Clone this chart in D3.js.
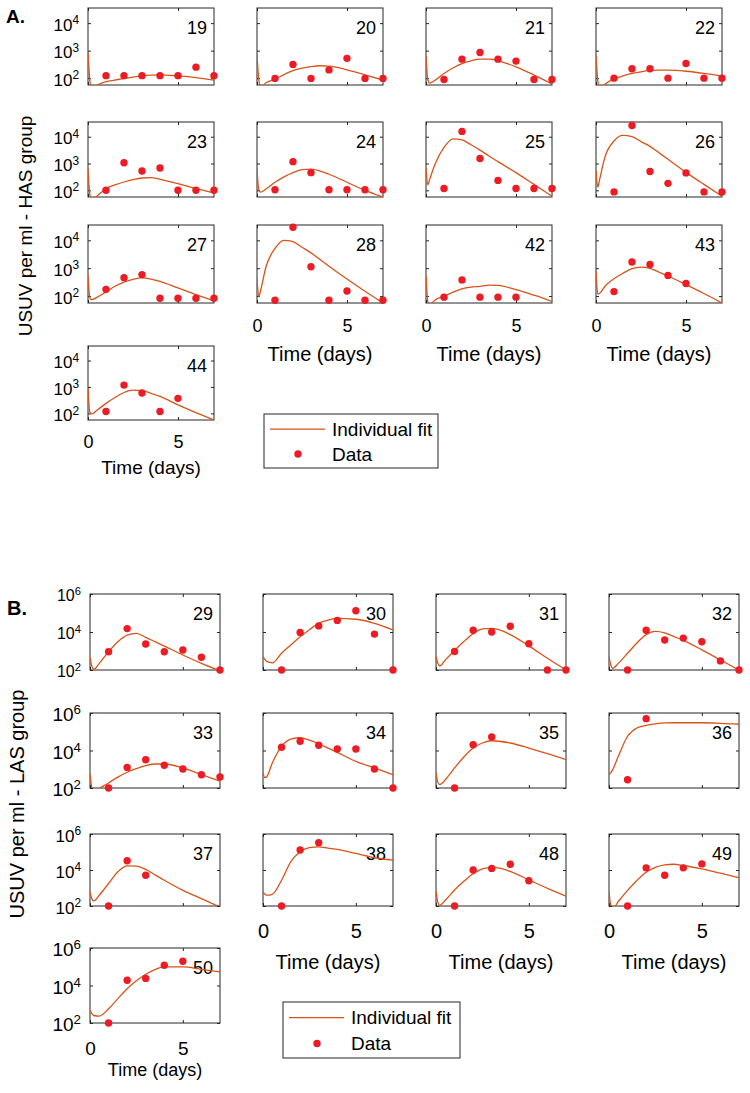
<!DOCTYPE html>
<html><head><meta charset="utf-8">
<script src="https://cdn.jsdelivr.net/npm/d3@7"></script>
<style>
body{margin:0;background:#fff;}
svg text{font-family:Arial,"Liberation Sans",Helvetica,sans-serif;fill:#000;}
</style>
</head><body>
<svg id="c" width="750" height="1093"></svg>
<script>
// ---------- data (values are log10 of USUV per ml) ----------
const fitTimes = [0,0.1,0.2,0.5,1,1.5,2,2.5,3,3.5,4,5,6,7];
const dataDays = [1,2,3,4,5,6,7];
const xTicks = [0,5];
const yTicksA = [2,3,4];
const yTicksB = [2,4,6];
const legendLabels = ["Individual fit","Data"];

const idsA = [19,20,21,22,23,24,25,26,27,28,42,43,44];
const fitA = [
  [2.91,1.95,1.60,1.74,1.87,1.93,1.99,2.04,2.08,2.11,2.12,2.08,2.02,1.93],
  [2.85,1.95,1.68,1.83,1.97,2.13,2.27,2.36,2.42,2.45,2.44,2.30,2.12,1.93],
  [2.80,1.95,1.82,1.92,2.17,2.37,2.53,2.63,2.69,2.69,2.63,2.41,2.11,1.79],
  [2.83,1.90,1.60,1.78,1.97,2.08,2.17,2.23,2.28,2.29,2.29,2.25,2.17,2.07],
  [2.81,1.85,1.60,1.78,2.06,2.20,2.31,2.40,2.46,2.47,2.41,2.25,2.06,1.90],
  [2.81,2.00,1.93,2.05,2.30,2.50,2.66,2.77,2.79,2.72,2.60,2.30,2.00,1.75],
  [2.85,2.20,2.40,2.97,3.60,3.92,3.88,3.70,3.50,3.28,3.07,2.66,2.22,1.78],
  [2.75,2.12,2.40,3.25,3.84,4.05,4.00,3.82,3.64,3.40,3.16,2.67,2.22,1.78],
  [2.75,1.95,1.87,1.95,2.15,2.35,2.50,2.60,2.65,2.61,2.53,2.29,2.05,1.83],
  [2.63,1.98,2.20,3.05,3.71,4.00,3.95,3.75,3.55,3.31,3.07,2.61,2.17,1.75],
  [2.74,1.80,1.68,1.86,1.99,2.14,2.26,2.32,2.35,2.39,2.38,2.23,2.03,1.81],
  [2.90,2.07,2.10,2.35,2.62,2.82,2.98,3.04,2.99,2.86,2.72,2.41,2.09,1.75],
  [2.95,2.05,1.98,2.12,2.38,2.60,2.79,2.88,2.86,2.76,2.64,2.32,2.03,1.75]
];
const dotsA = [
  [2.09,2.09,2.09,2.09,2.09,2.40,2.09],
  [1.99,2.50,1.99,2.30,2.72,1.99,1.99],
  [1.95,2.69,2.93,2.69,2.62,1.95,1.95],
  [2.00,2.34,2.34,2.00,2.53,2.00,2.00],
  [2.00,3.03,2.72,2.83,2.00,2.00,2.00],
  [2.02,3.07,2.66,2.02,2.02,2.02,2.02],
  [2.07,4.20,3.19,2.37,2.07,2.07,2.07],
  [1.94,4.42,2.70,2.26,2.65,1.94,1.94],
  [2.24,2.66,2.77,1.92,1.92,1.92,1.92],
  [1.85,4.47,3.05,1.85,2.18,1.85,1.85],
  [1.96,2.58,1.96,1.96,1.96,null,null],
  [2.16,3.22,3.13,2.74,2.45,null,null],
  [2.07,3.07,2.77,2.07,2.57,null,null]
];

const idsB = [29,30,31,32,33,34,35,36,37,38,48,49,50];
const fitB = [
  [2.67,2.20,2.04,2.35,2.96,3.49,3.84,3.93,3.72,3.49,3.26,2.79,2.35,1.96],
  [2.70,2.55,2.45,2.38,2.88,3.32,3.75,4.12,4.46,4.62,4.72,4.67,4.46,4.11],
  [2.71,2.35,2.21,2.53,3.03,3.50,3.91,4.16,4.19,4.09,3.86,3.27,2.62,2.00],
  [2.71,2.25,2.09,2.35,2.88,3.42,3.86,4.03,3.95,3.76,3.56,3.06,2.53,2.00],
  [2.76,2.00,1.80,1.98,2.27,2.58,2.84,3.03,3.19,3.28,3.28,3.07,2.71,2.36],
  [2.80,2.55,2.60,3.33,4.22,4.61,4.68,4.55,4.36,4.13,3.90,3.42,3.07,2.71],
  [2.80,2.30,2.18,2.44,3.07,3.65,4.13,4.40,4.52,4.48,4.40,4.13,3.83,3.51],
  [2.71,2.82,2.98,3.69,4.76,5.20,5.34,5.42,5.47,5.48,5.48,5.48,5.45,5.40],
  [2.78,2.40,2.28,2.60,3.25,3.90,4.23,4.21,4.03,3.73,3.43,2.87,2.41,1.94],
  [2.78,2.65,2.60,2.65,3.43,4.46,5.01,5.24,5.29,5.22,5.14,4.92,4.68,4.55],
  [2.83,2.20,2.04,2.32,2.89,3.37,3.79,4.06,4.15,4.09,3.92,3.45,2.98,2.55],
  [2.81,2.00,1.85,2.25,2.87,3.42,3.88,4.15,4.29,4.32,4.25,4.06,3.82,3.57],
  [2.68,2.50,2.40,2.37,2.76,3.30,3.83,4.25,4.60,4.85,4.99,4.99,4.86,4.72]
];
const dotsB = [
  [2.96,4.18,3.37,2.96,3.05,2.67,2.00],
  [2.00,3.98,4.32,4.61,5.12,3.89,2.00],
  [2.97,4.09,4.00,4.30,3.38,2.00,2.00],
  [2.00,4.09,3.58,3.68,3.49,2.48,2.00],
  [2.00,3.10,3.51,3.21,3.01,2.71,2.59],
  [4.17,4.49,4.28,4.08,4.08,3.01,2.00],
  [2.00,4.31,4.72,null,null,null,null],
  [2.44,5.70,null,null,null,null,null],
  [2.00,4.51,3.71,null,null,null,null],
  [2.00,5.11,5.52,null,null,null,null],
  [2.00,4.00,4.09,4.32,3.40,null,null],
  [2.00,4.12,3.71,4.12,4.34,null,null],
  [2.00,4.28,4.38,5.08,5.29,null,null]
];

// ---------- layout ----------
const LINE = "#d95319", DOT = "#ec1c24", FRAME = "#262626";
const svg = d3.select("#c");
let clipN = 0;

const groups = [
  {ids:idsA, fit:fitA, dots:dotsA, yDom:[1.75,4.55], yTicks:yTicksA,
   colX:[88,257,426,596], w:126, rowY:[8,122,225,346], rowH:[77,75,78,74],
   yFont:[17,17,17,17], xFont:[0,0,18,18], titleFont:[0,0,20,19],
   xLabOff:{2:23,3:22}, titleOff:{2:51,3:47},
   tag:"A.", tagPos:[6,23], tagFont:19,
   ylab:"USUV per ml - HAS group", ylabPos:[25,226], ylabFont:19,
   legend:{x:264,y:414,w:174,h:54}},
  {ids:idsB, fit:fitB, dots:dotsB, yDom:[2,6], yTicks:yTicksB,
   colX:[90,263,436,609], w:130, rowY:[594,713,834,948], rowH:[76,75,72,75],
   yFont:[16,19,17,19], xFont:[0,0,20,19], titleFont:[0,0,20,18],
   xLabOff:{2:25,3:25}, titleOff:{2:56,3:47},
   tag:"B.", tagPos:[7,615], tagFont:20,
   ylab:"USUV per ml - LAS group", ylabPos:[17,804], ylabFont:20,
   legend:{x:283,y:1002,w:177,h:56}}
];

groups.forEach(G => {
  G.ids.forEach((id, i) => {
    const r = Math.floor(i/4), c = i % 4;
    const x0 = G.colX[c], y0 = G.rowY[r], w = G.w, h = G.rowH[r];
    const x = d3.scaleLinear().domain([0,7]).range([x0, x0 + w]);
    const y = d3.scaleLog().domain(G.yDom.map(e => Math.pow(10, e))).range([y0 + h, y0]);
    const g = svg.append("g");
    const cid = "clip" + (clipN++);
    g.append("clipPath").attr("id", cid).append("rect")
      .attr("x", x0).attr("y", y0).attr("width", w).attr("height", h);

    // frame
    g.append("rect").attr("x", x0).attr("y", y0).attr("width", w).attr("height", h)
      .attr("fill", "#fff").attr("stroke", FRAME).attr("stroke-width", 1);

    // inner ticks (MATLAB style, mirrored)
    const tk = (axis, tr) => {
      const a = g.append("g").attr("transform", tr).call(axis);
      a.select(".domain").remove();
      a.selectAll(".tick line").attr("stroke", FRAME);
      a.selectAll(".tick text").remove();
    };
    tk(d3.axisBottom(x).tickValues(xTicks).tickSize(-3), `translate(0,${y0 + h})`);
    tk(d3.axisTop(x).tickValues(xTicks).tickSize(-3), `translate(0,${y0})`);
    tk(d3.axisLeft(y).tickValues(G.yTicks.map(e => Math.pow(10, e))).tickSize(-3), `translate(${x0},0)`);
    tk(d3.axisRight(y).tickValues(G.yTicks.map(e => Math.pow(10, e))).tickSize(-3), `translate(${x0 + w},0)`);

    // y tick labels on first column
    if (c === 0) {
      const ay = g.append("g").attr("transform", `translate(${x0},0)`)
        .call(d3.axisLeft(y).tickValues(G.yTicks.map(e => Math.pow(10, e))).tickSize(0).tickPadding(9));
      ay.select(".domain").remove();
      ay.attr("font-family", null).attr("font-size", null);
      ay.selectAll(".tick text").each(function(d) {
        const t = d3.select(this).text(null).attr("font-size", G.yFont[r]).attr("dy", "0.42em");
        t.append("tspan").text("10");
        t.append("tspan").attr("dy", "-0.55em").attr("font-size", (G.yFont[r] * 0.7) + "px")
          .text(Math.round(Math.log10(d)));
      });
    }

    // x tick labels & title on bottom panels
    const bottom = (r === 2 && c > 0) || r === 3;
    if (bottom) {
      const ax = g.append("g").attr("transform", `translate(0,${y0 + h})`)
        .call(d3.axisBottom(x).tickValues(xTicks).tickFormat(d3.format("d")).tickSize(0).tickPadding(0));
      ax.select(".domain").remove();
      ax.attr("font-family", null).attr("font-size", null);
      ax.selectAll(".tick text").attr("font-size", G.xFont[r]).attr("y", G.xLabOff[r]).attr("dy", "0.35em");
      g.append("text").attr("x", x0 + w / 2).attr("y", y0 + h + G.titleOff[r]).attr("dy", "0.35em")
        .attr("text-anchor", "middle").attr("font-size", G.titleFont[r]).text("Time (days)");
    }

    // panel number
    g.append("text").attr("x", x0 + w - 7).attr("y", y0 + 20).attr("dy", "0.35em")
      .attr("text-anchor", "end").attr("font-size", 18).text(id);

    // fit line
    const fitPts = fitTimes.map((t, k) => [t, Math.pow(10, G.fit[i][k])]);
    const line = d3.line().x(d => x(d[0])).y(d => y(d[1])).curve(d3.curveMonotoneX);
    g.append("path").attr("clip-path", `url(#${cid})`).attr("d", line(fitPts))
      .attr("fill", "none").attr("stroke", LINE).attr("stroke-width", 1.3);

    // data dots
    const pts = dataDays.map((t, k) => [t, G.dots[i][k]]).filter(d => d[1] !== null);
    g.selectAll("circle.d").data(pts).join("circle").attr("class", "d")
      .attr("cx", d => x(d[0])).attr("cy", d => y(Math.pow(10, d[1]))).attr("r", 3.7)
      .attr("fill", DOT);
  });

  // group tag
  svg.append("text").attr("x", G.tagPos[0]).attr("y", G.tagPos[1])
    .attr("font-size", G.tagFont).attr("font-weight", "bold").text(G.tag);
  // y-axis label
  svg.append("text").attr("transform", `translate(${G.ylabPos[0]},${G.ylabPos[1]}) rotate(-90)`)
    .attr("text-anchor", "middle").attr("dy", "0.35em").attr("font-size", G.ylabFont).text(G.ylab);

  // legend
  const L = G.legend;
  const lg = svg.append("g");
  lg.append("rect").attr("x", L.x).attr("y", L.y).attr("width", L.w).attr("height", L.h)
    .attr("fill", "#fff").attr("stroke", FRAME).attr("stroke-width", 1);
  const r1 = L.y + L.h * 0.28, r2 = L.y + L.h * 0.74;
  lg.append("line").attr("x1", L.x + 6).attr("x2", L.x + 61).attr("y1", r1).attr("y2", r1)
    .attr("stroke", LINE).attr("stroke-width", 1.3);
  lg.append("circle").attr("cx", L.x + 34).attr("cy", r2).attr("r", 3.7).attr("fill", DOT);
  lg.append("text").attr("x", L.x + 68).attr("y", r1).attr("dy", "0.35em").attr("font-size", 19).text(legendLabels[0]);
  lg.append("text").attr("x", L.x + 68).attr("y", r2).attr("dy", "0.35em").attr("font-size", 19).text(legendLabels[1]);
});
</script>
</body></html>
